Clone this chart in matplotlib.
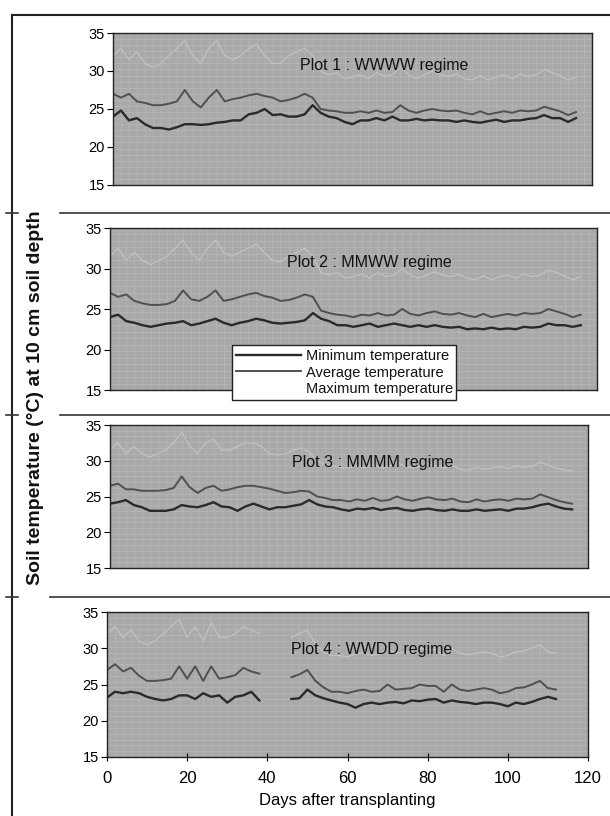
import numpy as np
import matplotlib
matplotlib.use("Agg")
import matplotlib.pyplot as plt
from matplotlib.lines import Line2D

plt.rcParams['font.family'] = ['Liberation Sans', 'DejaVu Sans']

days = list(range(0, 117, 2))
nan = float('nan')

titles = ["Plot 1 : WWWW regime", "Plot 2 : MMWW regime",
          "Plot 3 : MMMM regime", "Plot 4 : WWDD regime"]

avg1 = [27, 26.5, 27, 26, 25.8, 25.5, 25.5, 25.7, 26, 27.5, 26, 25.2, 26.5, 27.5, 26,
        26.3, 26.5, 26.8, 27, 26.7, 26.5, 26, 26.2, 26.5, 27, 26.5, 25, 24.8, 24.7, 24.5,
        24.5, 24.7, 24.5, 24.8, 24.5, 24.6, 25.5, 24.8, 24.5, 24.8, 25, 24.8, 24.7, 24.8,
        24.5, 24.3, 24.7, 24.3, 24.5, 24.7, 24.5, 24.8, 24.7, 24.8, 25.3, 25, 24.7, 24.2, 24.6]
min1 = [24, 24.8, 23.5, 23.8, 23, 22.5, 22.5, 22.3, 22.6, 23, 23, 22.9, 23, 23.2, 23.3,
        23.5, 23.5, 24.3, 24.5, 25, 24.2, 24.3, 24, 24, 24.3, 25.5, 24.5, 24, 23.8, 23.3,
        23, 23.5, 23.5, 23.8, 23.5, 24, 23.5, 23.5, 23.7, 23.5, 23.6, 23.5, 23.5, 23.3,
        23.5, 23.3, 23.2, 23.4, 23.6, 23.3, 23.5, 23.5, 23.7, 23.8, 24.2, 23.8, 23.8, 23.3, 23.8]
max1 = [32, 33, 31.5, 32.5, 31, 30.5, 31, 32, 33, 34, 32, 31, 33, 34, 32, 31.5, 32, 33,
        33.5, 32, 31, 31, 32, 32.5, 33, 32, 30, 29.5, 29.8, 29, 29.2, 29.5, 29, 29.8, 29.3,
        29.5, 30.5, 29.5, 29, 29.5, 30, 29.5, 29.3, 29.6, 29, 28.8, 29.4, 28.8, 29.2, 29.5,
        29, 29.6, 29.3, 29.5, 30.2, 29.8, 29.4, 28.8, 29.2]

avg2 = [27, 26.5, 26.8, 26, 25.7, 25.5, 25.5, 25.6, 26, 27.3, 26.2, 26, 26.5, 27.3, 26,
        26.2, 26.5, 26.8, 27, 26.6, 26.4, 26, 26.1, 26.4, 26.8, 26.5, 24.8, 24.5, 24.3, 24.2,
        24, 24.3, 24.2, 24.5, 24.2, 24.3, 25, 24.4, 24.2, 24.5, 24.7, 24.4, 24.3, 24.5,
        24.2, 24, 24.4, 24, 24.2, 24.4, 24.2, 24.5, 24.4, 24.5, 25, 24.7, 24.4, 24, 24.3]
min2 = [24, 24.3, 23.5, 23.3, 23, 22.8, 23, 23.2, 23.3, 23.5, 23, 23.2, 23.5, 23.8, 23.3,
        23, 23.3, 23.5, 23.8, 23.6, 23.3, 23.2, 23.3, 23.4, 23.6, 24.5, 23.8, 23.5, 23, 23,
        22.8, 23, 23.2, 22.8, 23, 23.2, 23, 22.8, 23, 22.8, 23, 22.8, 22.7, 22.8, 22.5,
        22.6, 22.5, 22.7, 22.5, 22.6, 22.5, 22.8, 22.7, 22.8, 23.2, 23, 23, 22.8, 23]
max2 = [31.5, 32.5, 31, 32, 31, 30.5, 31, 31.5, 32.5, 33.5, 32, 31, 32.5, 33.5, 32, 31.5,
        32, 32.5, 33, 32, 31, 30.8, 31.5, 32, 32.5, 31.5, 29.5, 29.2, 29.5, 28.8, 29, 29.3,
        28.8, 29.5, 29, 29.2, 30, 29.2, 28.8, 29.2, 29.6, 29.2, 29, 29.3, 28.8, 28.6, 29.1,
        28.6, 29, 29.2, 28.8, 29.3, 29, 29.2, 29.8, 29.5, 29.1, 28.6, 29]

avg3 = [26.5, 26.8, 26, 26, 25.8, 25.8, 25.8, 25.9, 26.2, 27.8, 26.3, 25.5, 26.2, 26.5, 25.8,
        26, 26.3, 26.5, 26.5, 26.3, 26.1, 25.8, 25.5, 25.6, 25.8, 25.7, 25, 24.8, 24.5, 24.5,
        24.3, 24.6, 24.4, 24.8, 24.4, 24.5, 25, 24.6, 24.4, 24.7, 24.9, 24.6, 24.5, 24.7,
        24.3, 24.2, 24.6, 24.3, 24.5, 24.6, 24.4, 24.7, 24.6, 24.7, 25.3, 24.9, 24.5, 24.2, 24]
min3 = [24, 24.2, 24.5, 23.8, 23.5, 23, 23, 23, 23.2, 23.8, 23.6, 23.5, 23.8, 24.2, 23.6,
        23.5, 23, 23.6, 24, 23.6, 23.2, 23.5, 23.5, 23.7, 23.9, 24.5, 23.9, 23.6, 23.5, 23.2,
        23, 23.3, 23.2, 23.4, 23.1, 23.3, 23.4, 23.1, 23, 23.2, 23.3, 23.1, 23, 23.2, 23,
        23, 23.2, 23, 23.1, 23.2, 23, 23.3, 23.3, 23.5, 23.8, 24, 23.6, 23.3, 23.2]
max3 = [31.5, 32.5, 31, 32, 31, 30.5, 31, 31.5, 32.5, 34, 32, 31, 32.5, 33, 31.5, 31.5,
        32, 32.5, 32.5, 32, 31, 30.8, 31, 31.5, 31.8, 31.2, 30, 29.5, 29.3, 29, 29, 29.3,
        29, 29.5, 29, 29.2, 29.8, 29.2, 29, 29.3, 29.6, 29.2, 29, 29.3, 28.8, 28.7, 29.1,
        28.8, 29, 29.2, 28.9, 29.3, 29.1, 29.2, 29.8, 29.4, 29, 28.7, 28.6]

avg4 = [27, 27.8, 26.8, 27.3, 26.2, 25.5, 25.5, 25.6, 25.8, 27.5, 25.8, 27.5, 25.5, 27.5,
        25.8, 26, 26.3, 27.3, 26.8, 26.5, nan, nan, nan, 26, 26.4, 27, 25.5, 24.6, 24, 24,
        23.8, 24.1, 24.3, 24, 24.1, 25, 24.3, 24.4, 24.5, 25, 24.8, 24.8, 24, 25, 24.3,
        24.1, 24.3, 24.5, 24.3, 23.8, 24, 24.5, 24.6, 25, 25.5, 24.5, 24.3, nan, nan]
min4 = [23.2, 24, 23.8, 24, 23.8, 23.3, 23, 22.8, 23, 23.5, 23.5, 23, 23.8, 23.3, 23.5,
        22.5, 23.3, 23.5, 24, 22.8, nan, nan, nan, 23, 23.1, 24.3, 23.5, 23.1, 22.8, 22.5,
        22.3, 21.8, 22.3, 22.5, 22.3, 22.5, 22.6, 22.4, 22.8, 22.7, 22.9, 23, 22.5, 22.8,
        22.6, 22.5, 22.3, 22.5, 22.5, 22.3, 22, 22.5, 22.3, 22.6, 23, 23.3, 23, nan, nan]
max4 = [32, 33, 31.5, 32.5, 31, 30.5, 31, 32, 33, 34, 31.5, 33, 31, 33.5, 31.5, 31.5, 32,
        33, 32.5, 32, nan, nan, nan, 31.5, 32, 32.5, 30.5, 29.5, 29, 29, 28.8, 29.2, 29.4,
        29, 29.2, 30, 29.3, 29.4, 29.5, 30, 29.8, 29.8, 29, 30, 29.3, 29.1, 29.3, 29.5, 29.3,
        28.8, 29, 29.5, 29.6, 30, 30.5, 29.5, 29.3, nan, nan]

avgs = [avg1, avg2, avg3, avg4]
mins = [min1, min2, min3, min4]
maxs = [max1, max2, max3, max4]

yticks = [15, 20, 25, 30, 35]
xticks = [0, 20, 40, 60, 80, 100, 120]

W, H = 610, 816
fig = plt.figure(figsize=(W / 100, H / 100), dpi=100)

def rect(l, r, t, b):
    return [l / W, 1 - b / H, (r - l) / W, (b - t) / H]

rects = [rect(113, 592, 33, 185), rect(110, 597, 228, 390),
         rect(110, 588, 425, 568), rect(107, 588, 612, 757)]
title_pos = [(68, 30.7), (64, 30.8), (66, 29.7), (66, 29.8)]

axes = []
for i in range(4):
    ax = fig.add_axes(rects[i])
    ax.set_facecolor('#a9a9a9')
    ax.set_xlim(0, 120)
    ax.set_ylim(15, 35)
    ax.set_yticks(yticks)
    ax.set_xticks(np.arange(0, 121, 2), minor=True)
    ax.grid(True, which='minor', axis='x', color='#b6b6b6', lw=0.6)
    ax.set_yticks(np.arange(15, 35.1, 0.8), minor=True)
    ax.grid(True, which='minor', axis='y', color='#b6b6b6', lw=0.6)
    ax.tick_params(which='minor', length=0)
    ax.set_axisbelow(True)
    ax.tick_params(axis='y', direction='out', length=4, labelsize=10.5, pad=2)
    if i < 3:
        ax.set_xticks([])
        ax.tick_params(axis='x', which='both', bottom=False, labelbottom=False)
    else:
        ax.set_xticks(xticks)
        ax.tick_params(axis='x', direction='inout', length=6, labelsize=12, pad=7)
        ax.set_xlabel('Days after transplanting', fontsize=12, labelpad=5)
    for s in ax.spines.values():
        s.set_linewidth(1.0)
        s.set_color('#222222')
    l1, = ax.plot(days, mins[i], color='#2a2a2a', lw=1.7, label='Minimum temperature')
    l2, = ax.plot(days, avgs[i], color='#505050', lw=1.4, label='Average temperature')
    l3, = ax.plot(days, maxs[i], color='#c2c2c2', lw=0.9, label='Maximum temperature')
    ax.text(title_pos[i][0], title_pos[i][1], titles[i], ha='center', va='center',
            fontsize=11.5, color='#111111')
    axes.append((ax, l1, l2, l3))

ax2, l1, l2, l3 = axes[1]
leg = ax2.legend(handles=[l1, l2, l3], loc='upper left',
                 bbox_to_anchor=(232 / W, 1 - 345 / H), bbox_transform=fig.transFigure,
                 fontsize=10.5, frameon=True, fancybox=False, edgecolor='#222222',
                 framealpha=1, borderpad=0.25, labelspacing=0.2, handlelength=4.5,
                 handletextpad=0.3, borderaxespad=0)
leg.get_frame().set_linewidth(1.0)
leg.set_zorder(10)
for t in leg.get_texts():
    t.set_color('#111111')
leg.get_lines()[2].set_color('#ffffff')

# outer frame and separator lines
fig.add_artist(Line2D([12 / W, 1], [1 - 15 / H, 1 - 15 / H], color='#222222', lw=1.5))
fig.add_artist(Line2D([12 / W, 12 / W], [0, 1 - 15 / H], color='#222222', lw=1.5))
for ypx, x0 in [(213, 60), (415, 60), (597, 50)]:
    fig.add_artist(Line2D([x0 / W, 1], [1 - ypx / H, 1 - ypx / H], color='#333333', lw=1.2))
    fig.add_artist(Line2D([6 / W, 18 / W], [1 - ypx / H, 1 - ypx / H], color='#333333', lw=1.2))

fig.text(36 / W, 1 - 398 / H, 'Soil temperature (°C) at 10 cm soil depth', rotation=90,
         ha='center', va='center', fontsize=14, fontweight='bold', color='#111111')

fig.savefig('out.png', dpi=100)
